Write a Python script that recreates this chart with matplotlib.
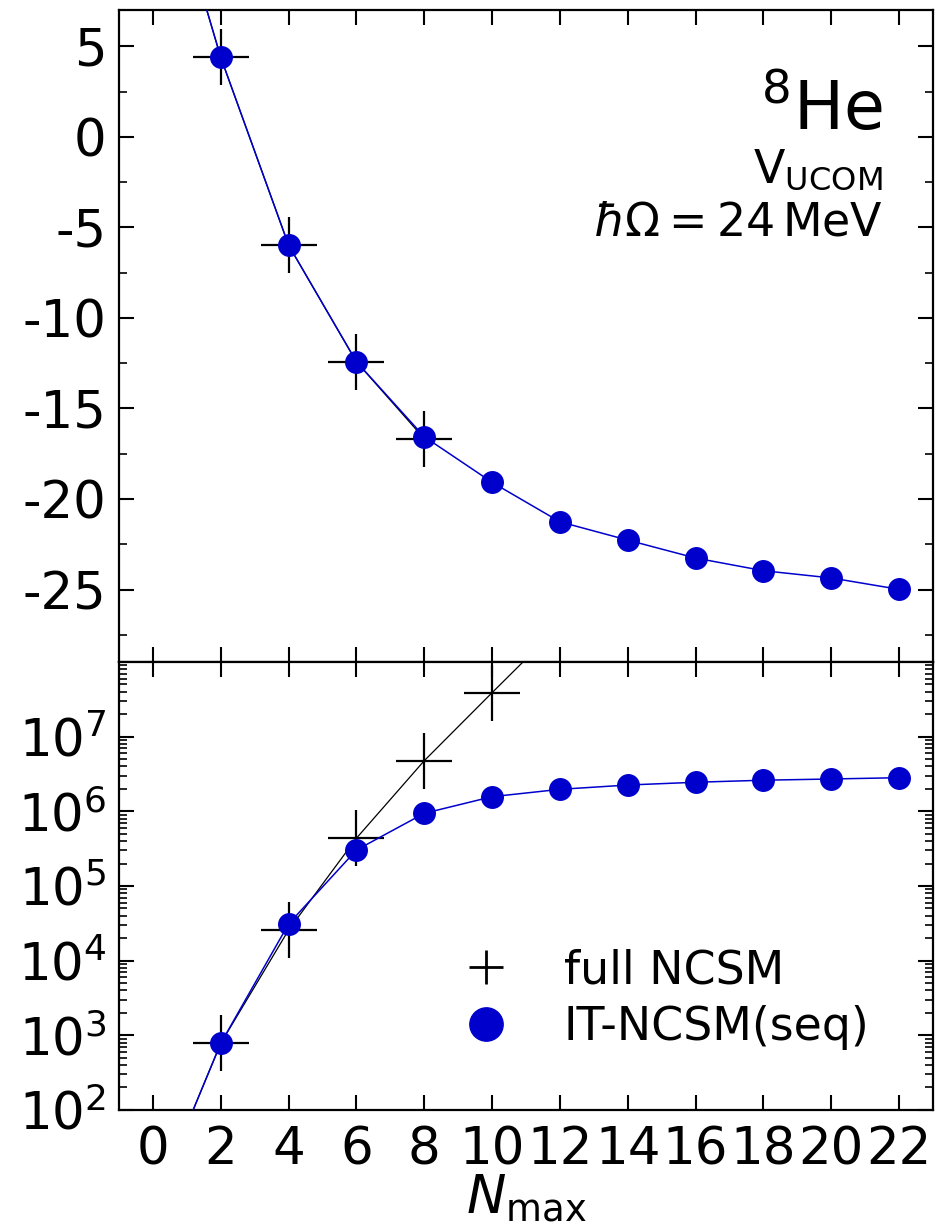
import numpy as np
import matplotlib
matplotlib.use('Agg')
import matplotlib.pyplot as plt
from matplotlib.lines import Line2D
from matplotlib.ticker import AutoMinorLocator, LogLocator, NullFormatter

plt.rcParams['font.family'] = 'DejaVu Sans'
plt.rcParams['mathtext.fontset'] = 'dejavusans'
plt.rcParams['axes.unicode_minus'] = False

# Datos
nmax = [0, 2, 4, 6, 8, 10, 12, 14, 16, 18, 20, 22]
nmax_full = [0, 2, 4, 6, 8, 10, 12]

# energia (MeV)
e_it = [17.1, 4.39, -5.98, -12.42, -16.56, -19.08, -21.26, -22.27, -23.26, -23.96, -24.36, -24.99]
e_full = [17.1, 4.39, -5.98, -12.42, -16.67]

# dimension del espacio modelo
dim_it = [5.0, 7.8e2, 3.1e4, 3.03e5, 9.4e5, 1.57e6, 1.97e6, 2.25e6, 2.45e6, 2.61e6, 2.71e6, 2.82e6]
dim_full = [5.0, 7.8e2, 2.57e4, 4.36e5, 4.76e6, 3.88e7, 3.1e8]

blue = '#0000cc'
fs = 37

fig = plt.figure(figsize=(9.48, 12.25), dpi=100)
ax1 = fig.add_axes([0.1255, 0.4596, 0.8587, 0.5322])
ax2 = fig.add_axes([0.1255, 0.0939, 0.8587, 0.3657], sharex=ax1)

# panel superior: energia
ax1.plot(nmax_full[:len(e_full)], e_full, '+-', color='k', lw=0.9, ms=40, mew=1.6, zorder=2)
ax1.plot(nmax, e_it, 'o-', color=blue, lw=1.1, ms=15.5, mec=blue, zorder=3)
ax1.set_ylim(-29, 7)
ax1.set_yticks([-25, -20, -15, -10, -5, 0, 5])
ax1.yaxis.set_minor_locator(AutoMinorLocator(2))
plt.setp(ax1.get_xticklabels(), visible=False)

ax1.text(0.9386, 0.816, r'$^8$He', transform=ax1.transAxes, ha='right', va='baseline', fontsize=48)
ax1.text(0.9386, 0.735, r'V$_\mathrm{UCOM}$', transform=ax1.transAxes, ha='right', va='baseline', fontsize=33)
ax1.text(0.9386, 0.654, r'$\hbar\Omega = 24\,\mathrm{MeV}$', transform=ax1.transAxes, ha='right', va='baseline', fontsize=33)

# panel inferior: dimension
ax2.plot(nmax_full, dim_full, '+-', color='k', lw=0.9, ms=40, mew=1.6, zorder=2)
ax2.plot(nmax, dim_it, 'o-', color=blue, lw=1.1, ms=15.5, mec=blue, zorder=3)
ax2.set_yscale('log')
ax2.set_ylim(1e2, 1e8)
ax2.set_yticks([1e2, 1e3, 1e4, 1e5, 1e6, 1e7])
ax2.yaxis.set_minor_locator(LogLocator(base=10, subs=np.arange(2, 10), numticks=20))
ax2.yaxis.set_minor_formatter(NullFormatter())

ax2.set_xlim(-1, 23)
ax2.set_xticks(range(0, 23, 2))
ax2.set_xlabel(r'$N_\mathrm{max}$', fontsize=38, labelpad=-2)

for ax in (ax1, ax2):
    for s in ax.spines.values():
        s.set_linewidth(1.6)
    ax.tick_params(which='both', direction='in', top=True, right=True, labelsize=fs, pad=9)
    ax.tick_params(which='major', length=11, width=1.5)
    ax.tick_params(which='minor', length=5.5, width=1.2)
ax2.tick_params(axis='x', which='major', pad=11)

handles = [Line2D([], [], marker='+', ls='none', color='k', ms=24, mew=2),
           Line2D([], [], marker='o', ls='none', color=blue, mec=blue, ms=24)]
ax2.legend(handles, ['full NCSM', 'IT-NCSM(seq)'], frameon=False, fontsize=33,
           loc='upper left', bbox_to_anchor=(399 / 948, 1 - 907 / 1225),
           bbox_transform=fig.transFigure, handlelength=2, handletextpad=0.7,
           labelspacing=0.26, borderpad=0.4)

fig.savefig('out.png', dpi=100)
